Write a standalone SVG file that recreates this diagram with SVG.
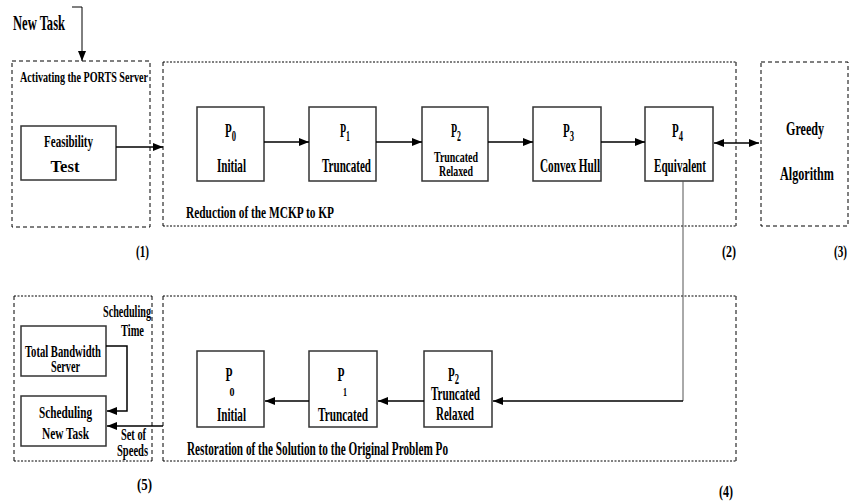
<svg xmlns="http://www.w3.org/2000/svg" width="851" height="502" viewBox="0 0 851 502">
<style>
.t{font-family:"Liberation Serif","Times New Roman",serif;font-weight:bold;fill:#000;}
.m{text-anchor:middle;}
.box{fill:#fff;stroke:#333;stroke-width:1.5;}
.dash{fill:none;stroke:#000;stroke-width:1;stroke-dasharray:4,3;}
.dot{fill:none;stroke:#000;stroke-width:1;stroke-dasharray:2,1.5;}
.conn{fill:none;stroke:#000;stroke-width:1.5;}
.thin{fill:none;stroke:#555;stroke-width:1;}
</style>
<defs>
<marker id="ah" viewBox="0 0 10 8" refX="10" refY="4" markerWidth="10" markerHeight="8" orient="auto-start-reverse" markerUnits="userSpaceOnUse">
<path d="M0,0 L10,4 L0,8 Z" fill="#000"/>
</marker>
</defs>

<g id="containers">
<rect class="dash" x="12" y="61" width="138" height="166"/>
<g id="box2"><line class="dot" x1="163" y1="62" x2="736" y2="62"/><line class="dot" x1="163" y1="226" x2="736" y2="226"/><line class="dash" x1="163" y1="62" x2="163" y2="226"/><line class="dash" x1="736" y1="62" x2="736" y2="226"/></g>
<rect class="dash" x="761" y="62" width="87" height="164"/>
<g id="box4"><line class="dot" x1="163" y1="296" x2="736" y2="296"/><line class="dot" x1="163" y1="461" x2="736" y2="461"/><line class="dash" x1="163" y1="296" x2="163" y2="461"/><line class="dash" x1="736" y1="296" x2="736" y2="461"/></g>
<g id="box5"><line class="dot" x1="14" y1="296" x2="152" y2="296"/><line class="dot" x1="14" y1="461" x2="152" y2="461"/><line class="dash" x1="14" y1="296" x2="14" y2="461"/><line class="dash" x1="152" y1="296" x2="152" y2="461"/></g>
</g>

<g id="labels">
<text class="t" x="13" y="30" font-size="21" textLength="52" lengthAdjust="spacingAndGlyphs">New Task</text>
<text class="t" x="20" y="82" font-size="15" textLength="128" lengthAdjust="spacingAndGlyphs">Activating the PORTS Server</text>
<text class="t" x="186" y="218" font-size="16" textLength="148" lengthAdjust="spacingAndGlyphs">Reduction of the MCKP to KP</text>
<text class="t" x="187" y="455" font-size="18" textLength="261" lengthAdjust="spacingAndGlyphs">Restoration of the Solution to the Original Problem Po</text>
<text class="t" x="136" y="257" font-size="17" textLength="13" lengthAdjust="spacingAndGlyphs">(1)</text>
<text class="t" x="722" y="257" font-size="17" textLength="14" lengthAdjust="spacingAndGlyphs">(2)</text>
<text class="t" x="834" y="257" font-size="16" textLength="13" lengthAdjust="spacingAndGlyphs">(3)</text>
<text class="t" x="719" y="497" font-size="17" textLength="14" lengthAdjust="spacingAndGlyphs">(4)</text>
<text class="t" x="137" y="490" font-size="17" textLength="15" lengthAdjust="spacingAndGlyphs">(5)</text>
<text class="t" x="103" y="317" font-size="16" textLength="48" lengthAdjust="spacingAndGlyphs">Scheduling</text>
<text class="t" x="121" y="336" font-size="16" textLength="23" lengthAdjust="spacingAndGlyphs">Time</text>
<text class="t m" x="133.5" y="440" font-size="16" textLength="25" lengthAdjust="spacingAndGlyphs">Set of</text>
<text class="t m" x="132.5" y="456" font-size="16" textLength="31" lengthAdjust="spacingAndGlyphs">Speeds</text>
</g>

<g id="feasibility">
<rect class="box" x="21" y="126" width="95" height="54"/>
<text class="t m" x="68.5" y="147" font-size="17" textLength="49" lengthAdjust="spacingAndGlyphs">Feasibility</text>
<text class="t m" x="65" y="172" font-size="17" textLength="29" lengthAdjust="spacingAndGlyphs">Test</text>
</g>

<g id="p0top">
<rect class="box" x="197" y="107" width="67" height="74"/>
<text class="t" x="225" y="137" font-size="18" textLength="11" lengthAdjust="spacingAndGlyphs">P<tspan font-size="14" dy="4">0</tspan></text>
<text class="t m" x="231.5" y="172" font-size="18" textLength="29" lengthAdjust="spacingAndGlyphs">Initial</text>
</g>
<g id="p1top">
<rect class="box" x="309" y="107" width="67" height="74"/>
<text class="t" x="340" y="137" font-size="18" textLength="10" lengthAdjust="spacingAndGlyphs">P<tspan font-size="14" dy="4">1</tspan></text>
<text class="t m" x="346.5" y="172" font-size="18" textLength="49" lengthAdjust="spacingAndGlyphs">Truncated</text>
</g>
<g id="p2top">
<rect class="box" x="422" y="107" width="66" height="74"/>
<text class="t" x="451" y="137" font-size="18" textLength="10" lengthAdjust="spacingAndGlyphs">P<tspan font-size="14" dy="4">2</tspan></text>
<text class="t m" x="456" y="162" font-size="15" textLength="44" lengthAdjust="spacingAndGlyphs">Truncated</text>
<text class="t m" x="456" y="176" font-size="15" textLength="34" lengthAdjust="spacingAndGlyphs">Relaxed</text>
</g>
<g id="p3top">
<rect class="box" x="533" y="107" width="68" height="74"/>
<text class="t" x="563" y="137" font-size="18" textLength="11" lengthAdjust="spacingAndGlyphs">P<tspan font-size="14" dy="4">3</tspan></text>
<text class="t m" x="570" y="172" font-size="18" textLength="60" lengthAdjust="spacingAndGlyphs">Convex Hull</text>
</g>
<g id="p4top">
<rect class="box" x="645" y="107" width="68" height="74"/>
<text class="t" x="672" y="137" font-size="18" textLength="11" lengthAdjust="spacingAndGlyphs">P<tspan font-size="14" dy="4">4</tspan></text>
<text class="t m" x="680" y="172" font-size="18" textLength="52" lengthAdjust="spacingAndGlyphs">Equivalent</text>
</g>
<g id="greedy">
<text class="t m" x="805" y="135" font-size="18" textLength="38" lengthAdjust="spacingAndGlyphs">Greedy</text>
<text class="t m" x="807" y="180" font-size="18" textLength="54" lengthAdjust="spacingAndGlyphs">Algorithm</text>
</g>

<g id="p0bot">
<rect class="box" x="197" y="351" width="67" height="76"/>
<text class="t m" x="229" y="381" font-size="18" textLength="7" lengthAdjust="spacingAndGlyphs">P</text>
<text class="t m" x="232" y="396" font-size="13" textLength="5" lengthAdjust="spacingAndGlyphs">0</text>
<text class="t m" x="231.5" y="421" font-size="18" textLength="29" lengthAdjust="spacingAndGlyphs">Initial</text>
</g>
<g id="p1bot">
<rect class="box" x="309" y="351" width="68" height="76"/>
<text class="t m" x="341" y="381" font-size="18" textLength="7" lengthAdjust="spacingAndGlyphs">P</text>
<text class="t m" x="345" y="396" font-size="13" textLength="4" lengthAdjust="spacingAndGlyphs">1</text>
<text class="t m" x="343" y="421" font-size="18" textLength="50" lengthAdjust="spacingAndGlyphs">Truncated</text>
</g>
<g id="p2bot">
<rect class="box" x="424" y="351" width="68" height="76"/>
<text class="t" x="448" y="381" font-size="18" textLength="11" lengthAdjust="spacingAndGlyphs">P<tspan font-size="14" dy="3">2</tspan></text>
<text class="t m" x="455.5" y="400" font-size="18" textLength="49" lengthAdjust="spacingAndGlyphs">Truncated</text>
<text class="t m" x="455" y="420" font-size="18" textLength="38" lengthAdjust="spacingAndGlyphs">Relaxed</text>
</g>

<g id="tbs">
<rect class="box" x="21" y="326" width="85" height="50"/>
<text class="t m" x="63" y="357" font-size="16" textLength="76" lengthAdjust="spacingAndGlyphs">Total Bandwidth</text>
<text class="t m" x="65.5" y="372" font-size="16" textLength="29" lengthAdjust="spacingAndGlyphs">Server</text>
</g>
<g id="snt">
<rect class="box" x="21" y="396" width="85" height="50"/>
<text class="t m" x="65.5" y="418" font-size="16" textLength="53" lengthAdjust="spacingAndGlyphs">Scheduling</text>
<text class="t m" x="65.5" y="439" font-size="16" textLength="47" lengthAdjust="spacingAndGlyphs">New Task</text>
</g>

<g id="connectors">
<path class="conn" style="stroke-width:1" d="M72,7 H82 V61" marker-end="url(#ah)"/>
<path class="conn" d="M116,147 H163" marker-end="url(#ah)"/>
<path class="conn" d="M264,142 H309" marker-end="url(#ah)"/>
<path class="conn" d="M376,142 H422" marker-end="url(#ah)"/>
<path class="conn" d="M488,142 H533" marker-end="url(#ah)"/>
<path class="conn" d="M601,142 H645" marker-end="url(#ah)"/>
<path class="conn" d="M714,143 H759" marker-start="url(#ah)" marker-end="url(#ah)"/>
<path class="thin" d="M683,181 V401"/>
<path class="conn" d="M683,401 H493" marker-end="url(#ah)"/>
<path class="conn" d="M424,401 H378" marker-end="url(#ah)"/>
<path class="conn" d="M309,401 H265" marker-end="url(#ah)"/>
<path class="conn" d="M106,346 H127 V411 H107" marker-end="url(#ah)"/>
<path class="conn" d="M163,426 H107" marker-end="url(#ah)"/>
</g>
</svg>
